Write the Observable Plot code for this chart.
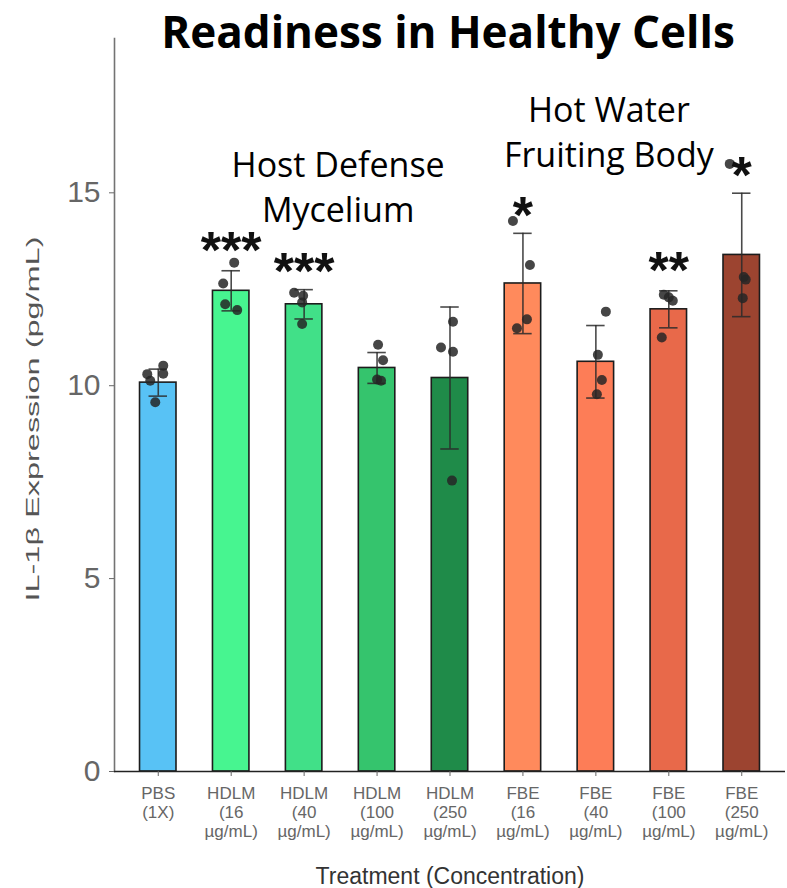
<!DOCTYPE html>
<html>
<head>
<meta charset="utf-8">
<script src="https://cdn.jsdelivr.net/npm/d3@7"></script>
<script src="https://cdn.jsdelivr.net/npm/@observablehq/plot@0.6"></script>
<style>
  html, body { margin: 0; padding: 0; background: #fff; }
  #chart svg { display: block; }
</style>
</head>
<body>
<div id="chart"></div>
<script>
// ---- data ----
const categories = ["PBS", "HDLM16", "HDLM40", "HDLM100", "HDLM250", "FBE16", "FBE40", "FBE100", "FBE250"];
const tickLabels = ["PBS\n(1X)", "HDLM\n(16\nµg/mL)", "HDLM\n(40\nµg/mL)", "HDLM\n(100\nµg/mL)", "HDLM\n(250\nµg/mL)",
                    "FBE\n(16\nµg/mL)", "FBE\n(40\nµg/mL)", "FBE\n(100\nµg/mL)", "FBE\n(250\nµg/mL)"];
const means = [10.08, 12.46, 12.11, 10.46, 10.2, 12.65, 10.62, 11.98, 13.39];
const sds   = [0.35, 0.52, 0.38, 0.40, 1.84, 1.30, 0.94, 0.48, 1.60];
const palette = ["#58c2f5", "#47f590", "#41e088", "#35c46d", "#1f8b49", "#ff8a5c", "#fd7d57", "#e8694a", "#9c4430"];

const pointGroups = ["PBS","PBS","PBS","PBS","PBS",
  "HDLM16","HDLM16","HDLM16","HDLM16",
  "HDLM40","HDLM40","HDLM40","HDLM40",
  "HDLM100","HDLM100","HDLM100","HDLM100",
  "HDLM250","HDLM250","HDLM250","HDLM250",
  "FBE16","FBE16","FBE16","FBE16",
  "FBE40","FBE40","FBE40","FBE40",
  "FBE100","FBE100","FBE100","FBE100",
  "FBE250","FBE250","FBE250","FBE250"];
const pointValues = [10.3, 10.52, 10.13, 10.31, 9.57,
  13.19, 12.65, 12.11, 11.96,
  12.41, 12.33, 12.16, 11.6,
  11.06, 10.66, 10.16, 10.13,
  11.66, 10.99, 10.88, 7.54,
  14.27, 13.13, 11.72, 11.49,
  11.92, 10.8, 10.15, 9.78,
  12.36, 12.29, 12.2, 11.25,
  15.75, 12.82, 12.75, 12.27];
const pointJitter = [-11, 5, -8, 5, -3,
  3, -8, -6, 6,
  -10, -1, -2, -2,
  1, 6, 0, 4,
  3, -9, 3, 2,
  -10, 7, 4, -6,
  10, 2, 6, 1,
  -5, 0, 4, -7,
  -12, 2, 4, 1];

const sigGroups = ["HDLM16", "HDLM40", "FBE16", "FBE100", "FBE250"];
const sigLabels = ["***", "***", "*", "**", "*"];
const sigY      = [13.71, 13.17, 14.62, 13.19, 15.65];

const annoLabels = ["Host Defense\nMycelium", "Hot Water\nFruiting Body"];
const annoGroups = ["HDLM40", "FBE40"];
const annoY      = [15.2, 16.63];
const annoDx     = [34, 13];

const title = "Readiness in Healthy Cells";
const yLabel = "IL-1β Expression (pg/mL)";
const xLabel = "Treatment (Concentration)";
const yTicks = [0, 5, 10, 15];

// ---- tables built from the arrays ----
const bars = categories.map((c, i) => ({cat: c, mean: means[i], lo: means[i] - sds[i], hi: means[i] + sds[i]}));
const points = pointValues.map((v, i) => ({cat: pointGroups[i], v, j: pointJitter[i]}));
const sigs = sigLabels.map((s, i) => ({cat: sigGroups[i], s, y: sigY[i]}));
const labelOf = new Map(categories.map((c, i) => [c, tickLabels[i]]));

// one dot mark per jitter offset (dx must be constant per mark)
const dotMarks = Array.from(d3.group(points, d => d.j), ([j, pts]) =>
  Plot.dot(pts, {x: "cat", y: "v", dx: j, r: 5, fill: "#262626", fillOpacity: 0.85, stroke: "none"}));
// one text mark per annotation
const annoMarks = annoLabels.map((t, i) =>
  Plot.text([{cat: annoGroups[i], y: annoY[i], t}], {x: "cat", y: "y", text: "t", dx: annoDx[i],
    fontSize: 34, lineHeight: 1.32, fill: "#000", fontFamily: "'Open Sans', sans-serif"}));

const errStyle = {stroke: "#2a2a2a", strokeWidth: 1.6, strokeOpacity: 0.85};

const chart = Plot.plot({
  width: 787,
  height: 888,
  marginLeft: 114,
  marginRight: 2,
  marginTop: 38,
  marginBottom: 117,
  style: {fontFamily: "'Liberation Sans', Arial, sans-serif", background: "#fff"},
  x: {domain: categories, paddingInner: 0.5, paddingOuter: 0.35, round: false, label: null},
  y: {domain: [0, 19], label: null},
  color: {domain: categories, range: palette},
  marks: [
    Plot.frame({anchor: "left", stroke: "#737373", strokeWidth: 1.6}),
    Plot.barY(bars, {x: "cat", y: "mean", fill: "cat", stroke: "#1c1c1c", strokeWidth: 1.6}),
    Plot.ruleX(bars, {x: "cat", y1: "lo", y2: "hi", ...errStyle}),
    Plot.tickY(bars, {x: "cat", y: "lo", insetLeft: 9, insetRight: 9, ...errStyle}),
    Plot.tickY(bars, {x: "cat", y: "hi", insetLeft: 9, insetRight: 9, ...errStyle}),
    ...dotMarks,
    Plot.ruleY([0], {stroke: "#222", strokeWidth: 1.6}),
    Plot.axisY({ticks: yTicks, tickSize: 5, tickPadding: 9, fontSize: 30, color: "#666", stroke: "#666", label: null}),
    Plot.axisX({tickSize: 5, tickPadding: 9, fontSize: 17, lineHeight: 1.12, color: "#666", stroke: "#666",
      tickFormat: d => labelOf.get(d), label: null}),
    Plot.text([yLabel], {frameAnchor: "left", textAnchor: "middle", lineAnchor: "middle", dx: -82, dy: 14, rotate: -90,
      fontSize: 19, fill: "#555"}),
    Plot.text([xLabel], {frameAnchor: "bottom", lineAnchor: "middle", dy: 105, fontSize: 23, fill: "#333"}),
    Plot.text([title], {frameAnchor: "top", lineAnchor: "middle", dy: -5, dx: -2, fontSize: 44, fontWeight: "bold",
      fill: "#000", fontFamily: "'Open Sans', sans-serif"}),
    Plot.text(sigs, {x: "cat", y: "y", text: "s", fontSize: 52, fontWeight: "bold", fill: "#111", dy: 9}),
    ...annoMarks
  ]
});
document.getElementById("chart").appendChild(chart);

// stretch the y-axis title along its length like the reference
d3.select(chart).selectAll("text").filter(function () { return this.textContent === yLabel; })
  .attr("textLength", 365).attr("lengthAdjust", "spacingAndGlyphs");
</script>
</body>
</html>
